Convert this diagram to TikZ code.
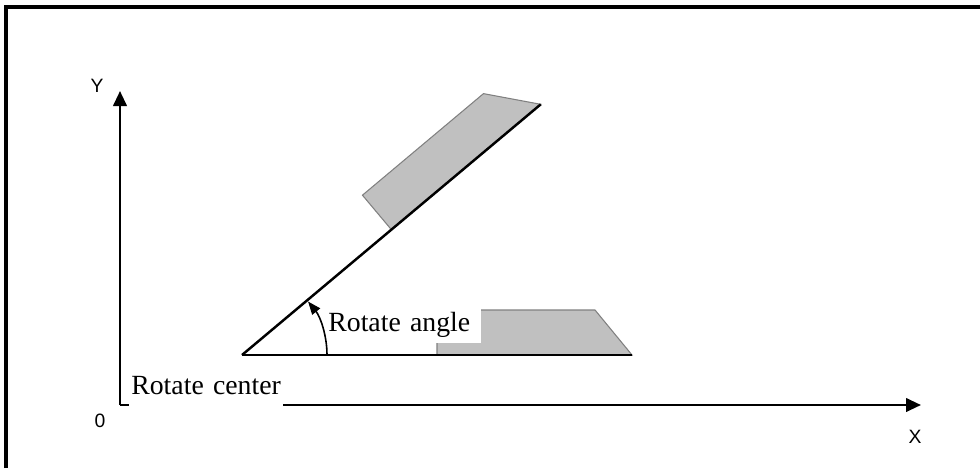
\documentclass[tikz,border=0pt]{standalone}
\usepackage{fontspec}
\setmainfont{Liberation Serif}
\newfontfamily\axisfont{Liberation Sans}
\usepackage{tikz}
\usetikzlibrary{arrows.meta, calc}
\definecolor{partFill}{HTML}{C0C0C0}
\definecolor{partEdge}{HTML}{808080}

\begin{document}
\begin{tikzpicture}[
        x=0.02cm, y=0.02cm,
        % one unit is one pixel of the 980x468 sheet, origin bottom left
        frame/.style ={line width=2pt},
        axis/.style  ={line width=1.4pt, -{Triangle[length=0.3cm, width=0.27cm]}},
        edge/.style  ={line width=1.4pt},
        part/.style  ={fill=partFill, draw=partEdge, line width=0.6pt},
        turn/.style  ={line width=0.9pt, -{Triangle[length=0.26cm, width=0.2cm]}},
        axlbl/.style ={font=\axisfont\fontsize{11}{13}\selectfont, inner sep=0pt},
        lbl/.style   ={font=\fontsize{15.8}{18}\selectfont, fill=white, align=left}
    ]
    \useasboundingbox (0,0) rectangle (980,468);

    % sheet frame (only top and left edge are on the page)
    \draw[frame] (6,0) -- (6,461) -- (980,461);

    \coordinate (O)    at (120,63);
    \coordinate (ytip) at (120,377);
    \coordinate (xtip) at (921,63);
    \coordinate (C)    at (242,113);
    \coordinate (base) at (632,113);
    \coordinate (diag) at ($(C)+(40:390)$);

    % part before and after the turn
    \draw[part] (437,113) -- (632,113) -- (595,158) -- (437,158) -- cycle;
    \draw[part, rotate around={40:(C)}] (437,113) -- (632,113) -- (595,158) -- (437,158) -- cycle;

    \draw[edge] (C) -- (base);
    \draw[edge] (C) -- (diag);

    \draw[axis] (O) -- (ytip);
    \draw[axis] (O) -- (xtip);

    \node[axlbl] (ylab) at (97,382) {Y};
    \node[axlbl] (xlab) at (915,31)  {X};
    \node[axlbl] (olab) at (100,47)  {0};

    \node[lbl, anchor=south west, inner xsep=0.1cm, inner ysep=0.1cm, text width=2.96cm]
          (angle) at (323,125) {Rotate angle};
    \node[lbl, anchor=base west, inner xsep=0.04cm, inner ysep=0.04cm, text depth=0.22cm, text width=3.0cm]
          (center) at (129,74) {Rotate center};

    \coordinate (a0) at ($(C)+(0:85)$);
    \draw[turn] (a0) arc[start angle=0, end angle=39, radius=85];

\end{tikzpicture}
\end{document}
